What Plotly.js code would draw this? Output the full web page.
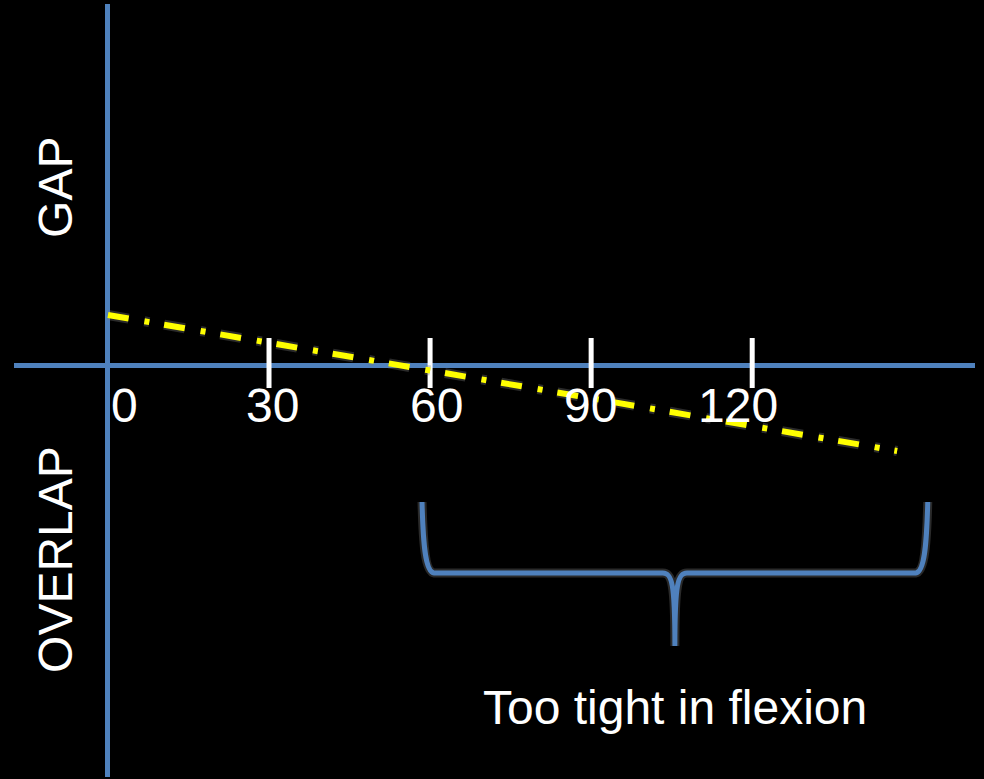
<!DOCTYPE html>
<html>
<head>
<meta charset="utf-8">
<script src="https://cdn.plot.ly/plotly-3.0.1.min.js"></script>
<style>
  html, body { margin: 0; padding: 0; background: #000; }
  #chart { width: 984px; height: 779px; }
</style>
</head>
<body>
<div id="chart"></div>
<script>
// ---- data ----
const tickVals = [30, 60, 90, 120];
const labelVals = [0, 30, 60, 90, 120];
const tickLabels = ['0', '30', '60', '90', '120'];
const flexAngle = [0, 147];
const gapValue = [2.5, -4.3];
const axisWords = ['GAP', 'OVERLAP'];
const braceSpan = [58.5, 152.7];
const braceNote = 'Too tight in flexion';

// ---- style / layout constants ----
const BLUE = '#4F81BD';
const FONT = 'Liberation Sans, Arial, sans-serif';
const xRange = [-17.5, 161.5];
const yRange = [-20.6, 18.05];
const plotW = 961, plotH = 773;
const pxX = (xRange[1] - xRange[0]) / plotW;   // data units per pixel
const pxY = (yRange[1] - yRange[0]) / plotH;
const tickUp = 27 * pxY, tickDown = 23 * pxY;
const labelNudge = [17, 3, 6, -1, -14];

// tick marks crossing the horizontal axis
const tx = [], ty = [];
tickVals.forEach(v => { tx.push(v, v, null); ty.push(tickUp, -tickDown, null); });

const traces = [
  {
    x: tx, y: ty, mode: 'lines', type: 'scatter', hoverinfo: 'skip',
    line: { color: '#FFFFFF', width: 5 }
  },
  {
    x: flexAngle, y: gapValue, mode: 'lines', type: 'scatter', hoverinfo: 'skip',
    line: { color: 'rgba(120,120,120,0.35)', width: 10, dash: '21px,16px,5px,15px' }
  },
  {
    x: flexAngle, y: gapValue, mode: 'lines', type: 'scatter', hoverinfo: 'skip',
    line: { color: '#FFFF00', width: 6, dash: '21px,16px,5px,15px' }
  }
];

// curly brace path in data coordinates
const bTop = -137 * pxY, bBar = -208 * pxY, bTip = -281 * pxY;
function bracePath(x0, x1) {
  const m = (x0 + x1) / 2;
  const p = (dx, dy) => `${dx},${dy}`;
  return 'M' + p(x0, bTop) +
    ' C' + p(x0 + 1 * pxX, bTop - 40 * pxY) + ' ' + p(x0 + 3 * pxX, bBar + 1 * pxY) + ' ' + p(x0 + 12 * pxX, bBar) +
    ' L' + p(m - 12 * pxX, bBar) +
    ' C' + p(m - 3 * pxX, bBar) + ' ' + p(m, bBar - 10 * pxY) + ' ' + p(m, bTip) +
    ' C' + p(m, bBar - 10 * pxY) + ' ' + p(m + 3 * pxX, bBar) + ' ' + p(m + 12 * pxX, bBar) +
    ' L' + p(x1 - 12 * pxX, bBar) +
    ' C' + p(x1 - 3 * pxX, bBar + 1 * pxY) + ' ' + p(x1 - 1 * pxX, bTop - 40 * pxY) + ' ' + p(x1, bTop);
}
const braceMid = (braceSpan[0] + braceSpan[1]) / 2;

const annotations = [];
tickLabels.forEach((t, i) => {
  annotations.push({
    x: labelVals[i], y: -40 * pxY, xref: 'x', yref: 'y', text: t, showarrow: false,
    xanchor: 'center', yanchor: 'middle', xshift: labelNudge[i],
    font: { family: FONT, size: 48, color: '#FFFFFF' }
  });
});
annotations.push({
  x: -53 * pxX, y: 178 * pxY, xref: 'x', yref: 'y', text: axisWords[0], showarrow: false,
  textangle: -90, xanchor: 'center', yanchor: 'middle',
  font: { family: FONT, size: 48, color: '#FFFFFF' }
});
annotations.push({
  x: -53 * pxX, y: -194 * pxY, xref: 'x', yref: 'y', text: axisWords[1], showarrow: false,
  textangle: -90, xanchor: 'center', yanchor: 'middle',
  font: { family: FONT, size: 48, color: '#FFFFFF' }
});
annotations.push({
  x: braceMid, y: -342 * pxY, xref: 'x', yref: 'y', text: braceNote, showarrow: false,
  xanchor: 'center', yanchor: 'middle',
  font: { family: FONT, size: 48, color: '#FFFFFF' }
});

const axisCommon = {
  showgrid: false, showticklabels: false, ticks: '', showline: false,
  zeroline: true, zerolinecolor: BLUE, zerolinewidth: 5, fixedrange: true
};

const layout = {
  width: 984, height: 779,
  margin: { l: 14, r: 9, t: 4, b: 2, pad: 0 },
  paper_bgcolor: '#000000', plot_bgcolor: '#000000',
  showlegend: false,
  xaxis: Object.assign({ range: xRange }, axisCommon),
  yaxis: Object.assign({ range: yRange }, axisCommon),
  shapes: [
    { type: 'path', xref: 'x', yref: 'y', path: bracePath(braceSpan[0], braceSpan[1]),
      line: { color: 'rgba(120,120,120,0.35)', width: 9 }, layer: 'above' },
    { type: 'path', xref: 'x', yref: 'y', path: bracePath(braceSpan[0], braceSpan[1]),
      line: { color: BLUE, width: 5 }, layer: 'above' }
  ],
  annotations: annotations,
  font: { family: FONT, color: '#FFFFFF' }
};

Plotly.newPlot('chart', traces, layout, { displayModeBar: false, staticPlot: true });
</script>
</body>
</html>
